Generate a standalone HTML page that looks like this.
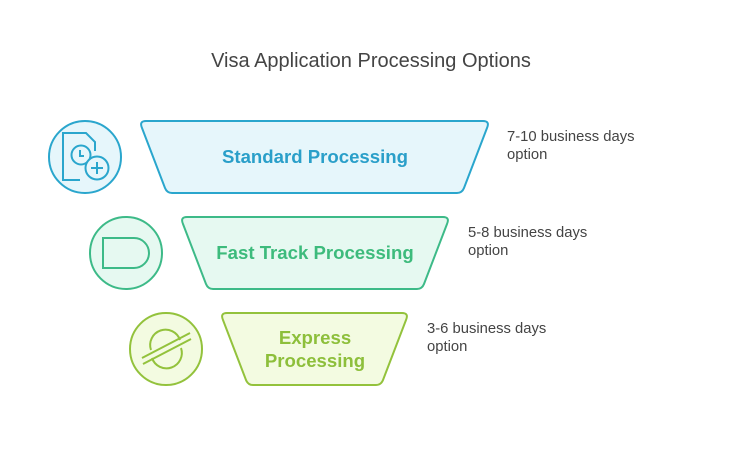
<!DOCTYPE html>
<html><head><meta charset="utf-8"><style>
html,body{margin:0;padding:0;background:#fff;}
svg{display:block;font-family:"Liberation Sans",Roboto,sans-serif;}
</style></head><body>
<svg width="743" height="458" viewBox="0 0 743 458" xmlns="http://www.w3.org/2000/svg">
<text x="371" y="67" text-anchor="middle" font-size="20" fill="#444">Visa Application Processing Options</text>

<!-- Standard -->
<path d="M146 121 L483 121 Q490 121 487 128 L464 188 Q462 193 457 193 L172 193 Q167 193 165 188 L142 128 Q139 121 146 121 Z" fill="#e6f6fb" stroke="#2aa6cd" stroke-width="2"/>
<text x="315" y="163" text-anchor="middle" font-size="18.6" font-weight="bold" fill="#2a9fc9">Standard Processing</text>
<circle cx="85" cy="157" r="36" fill="#e6f6fb" stroke="#2aa6cd" stroke-width="2"/>
<g fill="none" stroke="#2aa6cd" stroke-width="2">
<path d="M80 180 L63 180 L63 133 L86 133 L95 142 L95 151"/>
<circle cx="81" cy="155" r="9.5"/>
<path d="M80 150 L80 156 L84 156"/>
<circle cx="97" cy="168" r="11.5" fill="#e6f6fb"/>
<path d="M97 162 L97 174 M91 168 L103 168"/>
</g>
<text x="507" y="141" font-size="14.8" fill="#444">7-10 business days</text>
<text x="507" y="159" font-size="14.8" fill="#444">option</text>

<!-- Fast track -->
<path d="M187 217 L443 217 Q450 217 447 224 L424 284 Q422 289 417 289 L213 289 Q208 289 206 284 L183 224 Q180 217 187 217 Z" fill="#e6f9f1" stroke="#3dba88" stroke-width="2"/>
<text x="315" y="259" text-anchor="middle" font-size="18.6" font-weight="bold" fill="#3dbb7c">Fast Track Processing</text>
<circle cx="126" cy="253" r="36" fill="#e6f9f1" stroke="#3dba88" stroke-width="2"/>
<path d="M103 238 L134 238 A15 15 0 0 1 134 268 L103 268 Z" fill="none" stroke="#3dba88" stroke-width="2"/>
<text x="468" y="237" font-size="14.8" fill="#444">5-8 business days</text>
<text x="468" y="255" font-size="14.8" fill="#444">option</text>

<!-- Express -->
<path d="M227 313 L402 313 Q409 313 406 320 L383 380 Q381 385 376 385 L253 385 Q248 385 246 380 L223 320 Q220 313 227 313 Z" fill="#f3fbe1" stroke="#93c23c" stroke-width="2"/>
<text x="315" y="344" text-anchor="middle" font-size="18.6" font-weight="bold" fill="#8dbf3b">Express</text>
<text x="315" y="367" text-anchor="middle" font-size="18.6" font-weight="bold" fill="#8dbf3b">Processing</text>
<circle cx="166" cy="349" r="36" fill="#f3fbe1" stroke="#93c23c" stroke-width="2"/>
<g fill="none" stroke="#93c23c" stroke-width="2">
<path d="M151 350 A15 15 0 0 1 180 340"/>
<path d="M181 348 A15 15 0 0 1 152 358"/>
<path d="M142 358 L190 333 M143 364 L191 339"/>
</g>
<text x="427" y="333" font-size="14.8" fill="#444">3-6 business days</text>
<text x="427" y="351" font-size="14.8" fill="#444">option</text>
</svg>
</body></html>
